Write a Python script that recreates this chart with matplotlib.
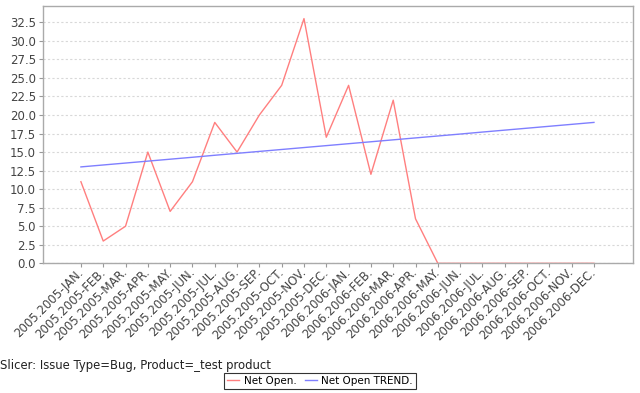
import matplotlib
matplotlib.use("Agg")
import matplotlib.pyplot as plt
import matplotlib.transforms as mtrans
from matplotlib.lines import Line2D

months = ["JAN.", "FEB.", "MAR.", "APR.", "MAY.", "JUN.",
          "JUL.", "AUG.", "SEP.", "OCT.", "NOV.", "DEC."]
categories = [f"{y}.{y}-{m}" for y in (2005, 2006) for m in months]

net_open = [11, 3, 5, 15, 7, 11, 19, 15, 20, 24, 33, 17,
            24, 12, 22, 6, 0, 0, 0, 0, 0, 0, 0, 0]
net_open_trend = [13.00, 13.26, 13.52, 13.78, 14.04, 14.30, 14.57, 14.83,
                  15.09, 15.35, 15.61, 15.87, 16.13, 16.39, 16.65, 16.91,
                  17.17, 17.43, 17.70, 17.96, 18.22, 18.48, 18.74, 19.00]

yticks = [0.0, 2.5, 5.0, 7.5, 10.0, 12.5, 15.0, 17.5, 20.0, 22.5, 25.0, 27.5, 30.0, 32.5]

RED = "#ff7f7f"
BLUE = "#7f7fff"
TXT = "#444444"

fig = plt.figure(figsize=(6.4, 3.93), dpi=100)
ax = fig.add_axes([43 / 640, 1 - 263.3 / 393, 590 / 640, 257.3 / 393])

x = list(range(len(categories)))
ax.plot(x, net_open, color=RED, lw=1.0)
ax.plot(x, net_open_trend, color=BLUE, lw=1.0)

ax.set_xlim(-1.7, 24.75)
ax.set_ylim(0, 34.7)
ax.set_yticks(yticks)
ax.set_yticklabels([f"{v:.1f}" for v in yticks], fontsize=8.5, color=TXT)
ax.set_xticks(x)
ax.set_xticklabels(categories, rotation=45, ha="right", va="center",
                   rotation_mode="anchor", fontsize=8.5, color=TXT)
shift = mtrans.ScaledTranslation(5 / 100, -7 / 100, fig.dpi_scale_trans)
for lab in ax.get_xticklabels():
    lab.set_transform(lab.get_transform() + shift)

ax.yaxis.grid(True, color="#d8d8d8", linestyle=(0, (2, 2)), lw=0.8)
ax.set_axisbelow(True)
for s in ax.spines.values():
    s.set_color("#aaaaaa")
    s.set_linewidth(1.0)
ax.tick_params(axis="both", length=3, color="#999999", pad=2)

fig.text(0 / 640, 1 - 365 / 393, "Slicer: Issue Type=Bug, Product=_test product",
         fontsize=8.4, color="#222222", va="center", ha="left")

handles = [Line2D([], [], color=RED, lw=1.0), Line2D([], [], color=BLUE, lw=1.0)]
leg = fig.legend(handles, ["Net Open.", "Net Open TREND."], loc="center",
                 bbox_to_anchor=(320 / 640, 1 - 381 / 393), ncol=2, fontsize=7.5,
                 frameon=True, fancybox=False, handlelength=1.2, handletextpad=0.4,
                 columnspacing=0.8, borderpad=0.3, borderaxespad=0)
leg.get_frame().set_edgecolor("black")
leg.get_frame().set_linewidth(0.8)

fig.savefig("out.png", dpi=100)
